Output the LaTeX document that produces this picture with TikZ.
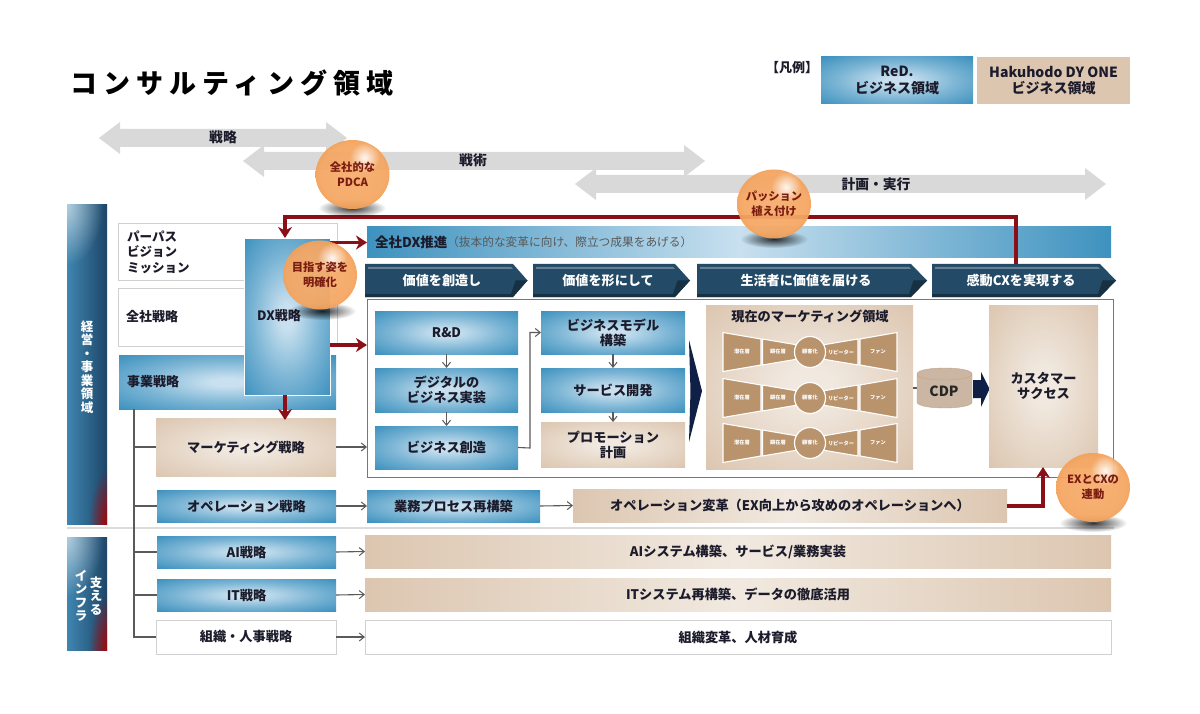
\documentclass[tikz,border=0pt]{standalone}
\usepackage{fontspec}
\setmainfont{Noto Sans CJK JP}
\newfontfamily\jptitle[LetterSpace=22.5]{Noto Sans CJK JP}
\usetikzlibrary{arrows.meta,fadings,shapes.geometric}
\definecolor{txt}{HTML}{1B1B2B}
\definecolor{bluee}{HTML}{3E92BF}
\definecolor{bluem}{HTML}{7AB4D4}
\definecolor{bluec}{HTML}{C8E0EF}
\definecolor{tane}{HTML}{DCC6B0}
\definecolor{tanc}{HTML}{F1E9E0}
\definecolor{navy}{HTML}{234A66}
\definecolor{navyb}{HTML}{1D4568}
\definecolor{sideb}{HTML}{3F86B0}
\definecolor{dred}{HTML}{8A0F16}
\definecolor{gbar}{HTML}{D9D9D9}
\definecolor{lgray}{HTML}{5A5A5A}
\definecolor{fun}{HTML}{B8936C}
\definecolor{balltxt}{HTML}{7A1C10}
\definecolor{ba}{HTML}{F7AE6E}
\definecolor{bb}{HTML}{F5A662}
\definecolor{bc}{HTML}{F19A4C}
\definecolor{wedge}{HTML}{0F1F45}
\definecolor{framec}{HTML}{5F7F90}
\definecolor{cdpe}{HTML}{C4A485}
\tikzfading[name=softr,inner color=transparent!0,outer color=transparent!100]
\pgfdeclareradialshading{bluerad}{\pgfpointorigin}{color(0bp)=(bluec); color(4bp)=(bluec); color(20bp)=(bluem); color(35bp)=(bluee); color(50bp)=(bluee)}
\pgfdeclareradialshading{tanrad}{\pgfpointorigin}{color(0bp)=(tanc); color(5bp)=(tanc); color(35bp)=(tane); color(50bp)=(tane)}
\pgfdeclareradialshading{ballrad}{\pgfpointorigin}{color(0bp)=(ba); color(22bp)=(bb); color(30bp)=(bc); color(50bp)=(bc)}
\tikzset{
  x=1pt,y=-1pt,
  bx/.style={rectangle,inner sep=0pt,outer sep=0pt,align=center,text=txt,font=\fontsize{13.2}{15}\selectfont\bfseries},
  bluebox/.style={bx,shade,shading=bluerad},
  tanbox/.style={bx,shade,shading=tanrad},
  whitebox/.style={bx,draw=black!18,line width=1pt,fill=white},
  thinarrow/.style={draw=lgray,line width=1.1pt,-{Straight Barb[length=5pt,width=8pt,line width=1pt]}},
  plainline/.style={draw=lgray,line width=1.1pt},
  redarrow/.style={draw=dred,line width=3.2pt,-{Stealth[length=11pt,width=14pt,inset=3.5pt]}},
  wlab/.style={text=white,inner sep=0pt,align=center,font=\fontsize{13.1}{15}\selectfont\bfseries},
  balltext/.style={inner sep=0pt,align=center,text=balltxt,font=\fontsize{11.3}{15}\selectfont\bfseries},
  funlab/.style={inner sep=0pt,text=white,font=\fontsize{5.2}{6}\selectfont\bfseries},
  glab/.style={inner sep=0pt,text=txt,font=\fontsize{13.8}{15}\selectfont\bfseries},
  vlab/.style={inner sep=0pt,text=white,align=center,font=\fontsize{12.5}{13.5}\selectfont\bfseries},
  barshade/.style={bx,left color=tane,right color=tane,middle color=tanc},
  legfont/.style={font=\fontsize{14}{16.5}\selectfont\bfseries},
}
% box by corners: [opts]{style}{name}{x1}{y1}{x2}{y2}
\newcommand{\bxc}[7][]{\node[#2,minimum width={(#6-#4)*1pt},minimum height={(#7-#5)*1pt},#1] (#3) at ({(#4+#6)/2},{(#5+#7)/2})}
\newcommand{\gtwo}[3]{\fill[gbar] (#1,#3) -- (#1+21,#3-16) -- (#1+21,#3-9) -- (#2-21,#3-9) -- (#2-21,#3-16) -- (#2,#3) -- (#2-21,#3+16) -- (#2-21,#3+9) -- (#1+21,#3+9) -- (#1+21,#3+16) -- cycle;}
% text, left, shoulder, tip, text x
\newcommand{\chev}[5]{\fill[navy] (#2,264) -- (#3,264) -- (#4,280.5) -- (#3,297) -- (#2,297) -- cycle;
  \fill[navy!70!white] (#2+3,267) -- (#3-2,267) -- (#3,269) -- (#2+3,269) -- cycle;
  \fill[navy!65!black] (#2,297) -- (#3,297) -- (#4,280.5) -- (#3+2.5,280.5) -- (#3-2,294) -- (#2,294) -- cycle;
  \node[wlab] (ch#5) at (#5,280.5) {#1};}
% name x y text shadowx shadowy textshift
\newcommand{\myball}[7]{%
  \fill[black,opacity=.8,path fading=softr] (#5,#6) ellipse (34 and 9);
  \shade[shading=ballrad,opacity=.94] (#2,#3) ellipse (37 and 34.5);
  \fill[white,opacity=.9,path fading=softr] (#2+12,#3-17) circle (15);
  \node[balltext] (#1) at (#2,#3+#7) {#4};}
\newcommand{\funnel}[2]{%
  \begin{scope}[shift={(0,#1)}]
  \fill[fun,draw=white,line width=1.1pt] (723,-19.5) -- (761,-13) -- (761,13) -- (723,19.5) -- cycle;
  \fill[fun,draw=white,line width=1.1pt] (762.5,-13) -- (796,-7.3) -- (796,7.3) -- (762.5,13) -- cycle;
  \fill[fun,draw=white,line width=1.1pt] (824,-7.3) -- (858,-13) -- (858,13) -- (824,7.3) -- cycle;
  \fill[fun,draw=white,line width=1.1pt] (860,-13) -- (897,-19.5) -- (897,19.5) -- (860,13) -- cycle;
  \node[circle,fill=fun,draw=white,line width=1.2pt,minimum size=31pt,inner sep=0pt,funlab] (kok#2) at (810,0) {顧客化};
  \node[funlab] (sen#2) at (742,0) {潜在層};
  \node[funlab] (ken#2) at (778,0) {顕在層};
  \node[funlab] (rep#2) at (841,0) {リピーター};
  \node[funlab] (fan#2) at (878,0) {ファン};
  \end{scope}}
\newcommand{\sidebar}[4]{%
  \begin{scope}
  \clip (#1,#2) rectangle (#3,#4);
  \shade[left color=sideb,right color=navyb] (#1,#2) rectangle (#3,#4);
  \fill[white,opacity=.6,path fading=softr] (#1,#2) ellipse (36 and 60);
  \fill[red!70!black,path fading=softr] (#3+2,#4) ellipse (20 and 55);
  \end{scope}}
\begin{document}
\begin{tikzpicture}
\useasboundingbox (0,0) rectangle (1200,714);
\fill[white] (0,0) rectangle (1200,714);
% title, legend
\node[inner sep=0pt,anchor=west,text=black,font=\fontsize{27}{30}\selectfont\jptitle\bfseries] (title) at (70,83) {コンサルティング領域};
\node[inner sep=0pt,text=txt,font=\fontsize{13}{14}\selectfont\bfseries] (hanrei) at (792,68) {【凡例】};
\bxc[legfont]{bluebox}{legred}{821}{57}{973}{104} {ReD.\\ビジネス領域};
\bxc[legfont,fill=tane]{bx}{leghak}{977}{57}{1130}{104} {Hakuhodo DY ONE\\ビジネス領域};
% gray arrows
\gtwo{99}{347}{138}
\gtwo{243}{705}{161}
\gtwo{575}{1106}{184}
\node[glab] (a1) at (223,137) {戦略};
\node[glab] (a2) at (473,160) {戦術};
\node[glab] (a3) at (876,184) {計画・実行};
% side bars
\sidebar{67}{205}{107}{524}
\sidebar{67}{537}{107}{650}
\node[vlab] (keiei) at (87,367) {経\\営\\・\\事\\業\\領\\域};
\node[vlab] (sasae) at (96,596) {支\\え\\る};
\node[vlab] (infra) at (81,596) {イ\\ン\\フ\\ラ};
\draw[black!14,line width=1.4pt] (67,528) -- (1114,528);
% left boxes
\bxc{whitebox}{pvm}{118}{224}{337}{281} {};
\node[inner sep=0pt,anchor=west,align=left,text=txt,font=\fontsize{12.5}{15.5}\selectfont\bfseries] (pvmt) at (127,252) {パーパス\\ビジョン\\ミッション};
\bxc{whitebox}{zensha}{118}{289}{337}{346} {};
\node[inner sep=0pt,anchor=west,text=txt,font=\fontsize{13}{15}\selectfont\bfseries] (zenshat) at (126,317) {全社戦略};
\bxc{bluebox}{jigyo}{119}{355}{336}{409} {};
\node[inner sep=0pt,anchor=west,text=txt,font=\fontsize{13}{15}\selectfont\bfseries] (jigyot) at (127,382) {事業戦略};
% tree
\coordinate (treetop) at (134,409);
\coordinate (treebot) at (134,637);
\bxc{tanbox}{mkt}{156}{418}{336}{476} {マーケティング戦略};
\bxc{bluebox}{ope}{157}{490}{336}{522} {オペレーション戦略};
\bxc{bluebox}{ai}{157}{536}{336}{568} {AI戦略};
\bxc{bluebox}{it}{157}{579}{336}{611} {IT戦略};
\bxc{whitebox}{hr}{156}{620}{336}{654} {組織・人事戦略};
\draw[plainline] (treetop) -- (treebot) -- (hr.west |- treebot);
\foreach \n in {mkt,ope,ai,it} \draw[plainline] (treetop |- \n.west) -- (\n.west);
% DX bar, chevrons
\bxc[left color=bluee,right color=bluee,middle color=bluec]{bx}{dxbar}{367}{227}{1111}{258} {};
\node[inner sep=0pt,anchor=west,text=txt,font=\fontsize{13.5}{15}\selectfont\bfseries] (dxt) at (375,242) {全社DX推進};
\node[inner sep=0pt,anchor=west,text=black!65,font=\fontsize{11.7}{15}\selectfont] (dxs) at (447,242) {（抜本的な変革に向け、際立つ成果をあげる）};
\chev{価値を創造し}{365}{513}{527.5}{442}
\chev{価値を形にして}{533}{675}{690}{608}
\chev{生活者に価値を届ける}{697}{911}{927}{806}
\chev{感動CXを実現する}{932}{1100}{1116}{1021}
% main frame
\bxc[draw=framec,fill=white,line width=1pt]{bx}{frame}{367}{299}{1113}{477} {};
\bxc{bluebox}{rd}{375}{311}{518}{354} {R\&D};
\bxc{bluebox}{digi}{375}{368}{518}{412} {デジタルの\\ビジネス実装};
\bxc{bluebox}{soz}{375}{426}{518}{469} {ビジネス創造};
\bxc{bluebox}{model}{541}{311}{685}{354} {ビジネスモデル\\構築};
\bxc{bluebox}{svc}{541}{368}{685}{412} {サービス開発};
\bxc{tanbox}{promo}{541}{422}{685}{467} {プロモーション\\計画};
\draw[thinarrow] (rd) -- (digi);
\draw[thinarrow] (digi) -- (soz);
\draw[thinarrow] (model) -- (svc);
\draw[thinarrow] (svc) -- (promo);
\coordinate (elbow) at (530,448);
\draw[thinarrow] (soz.east) -- (elbow) -- (elbow |- model.west) -- (model.west);
\fill[wedge] (689,340) -- (702,391) -- (689,442) -- (690.5,391) -- cycle;
% marketing panel
\bxc{tanbox}{panel}{706}{305}{913}{469} {};
\node[glab,font=\fontsize{13.2}{15}\selectfont\bfseries] (panelt) at (810,316) {現在のマーケティング領域};
\funnel{352}{a}
\funnel{398}{b}
\funnel{443}{c}
% CDP
\coordinate (cdpin) at (917,388);
\draw[plainline] (panel.east |- cdpin) -- (cdpin);
\filldraw[fill=tane!92!black,draw=cdpe] (917,374) -- (917,402) .. controls (917,410) and (972,410) .. (972,402) -- (972,374) .. controls (972,366) and (917,366) .. (917,374) -- cycle;
\draw[draw=cdpe] (917,374) .. controls (917,382) and (972,382) .. (972,374);
\node[inner sep=0pt,text=black!85,font=\fontsize{14}{16}\selectfont\bfseries] (cdp) at (944,391) {CDP};
\fill[wedge] (973,380) -- (981,380) -- (981,372) -- (989.5,389) -- (981,407) -- (981,398) -- (973,398) -- cycle;
\bxc{tanbox}{cs}{989}{305}{1098}{467} {カスタマー\\サクセス};
% lower rows
\bxc{bluebox}{gyomu}{367}{490}{540}{522} {業務プロセス再構築};
\bxc{barshade}{henkaku}{573}{489}{1007}{522} {オペレーション変革（EX向上から攻めのオペレーションへ）};
\bxc{barshade}{aib}{365}{535}{1111}{568} {AIシステム構築、サービス/業務実装};
\bxc{barshade}{itb}{365}{578}{1111}{611} {ITシステム再構築、データの徹底活用};
\bxc{whitebox}{hrb}{365}{620}{1111}{654} {組織変革、人材育成};
\draw[thinarrow] (mkt.east) -- (frame.west |- mkt.east);
\draw[thinarrow] (ope.east) -- (gyomu.west);
\draw[thinarrow] (gyomu.east) -- (henkaku.west);
\draw[thinarrow] (ai.east) -- (aib.west);
\draw[thinarrow] (it.east) -- (itb.west);
\draw[thinarrow] (hr.east) -- (hrb.west);
% DX strategy
\bxc[draw=white,line width=1pt]{bluebox}{dx}{244}{239}{330}{395} {};
\node[inner sep=0pt,text=txt,font=\fontsize{13}{15}\selectfont\bfseries] (dxl) at (279,316) {DX戦略};
% red connectors
\coordinate (redstart) at (1016,264);
\coordinate (redturn) at (1016,217);
\coordinate (redend) at (285,238);
\coordinate (frin) at (367,345);
\draw[redarrow] (redstart) -- (redturn) -- (redend |- redturn) -- (redend);
\draw[redarrow] (dx.east |- dxbar.west) -- (dxbar.west);
\draw[redarrow] (dx.east |- frin) -- (frin);
\coordinate (dxdown) at (285,395);
\coordinate (dxto) at (285,420);
\draw[redarrow] (dxdown) -- (dxto);
\coordinate (exturn) at (1043,506);
\coordinate (exend) at (1043,467);
\draw[redarrow] (henkaku.east |- exturn) -- (exturn) -- (exend);
% balls
\myball{b1}{352.5}{174.5}{全社的な\\PDCA}{352}{208}{0}
\myball{b2}{774}{204}{パッション\\植え付け}{774}{239}{0}
\myball{b3}{320}{275}{目指す姿を\\明確化}{322}{311}{0}
\myball{b4}{1093}{487.5}{EXとCXの\\連動}{1093}{523}{0}
\end{tikzpicture}
\end{document}
